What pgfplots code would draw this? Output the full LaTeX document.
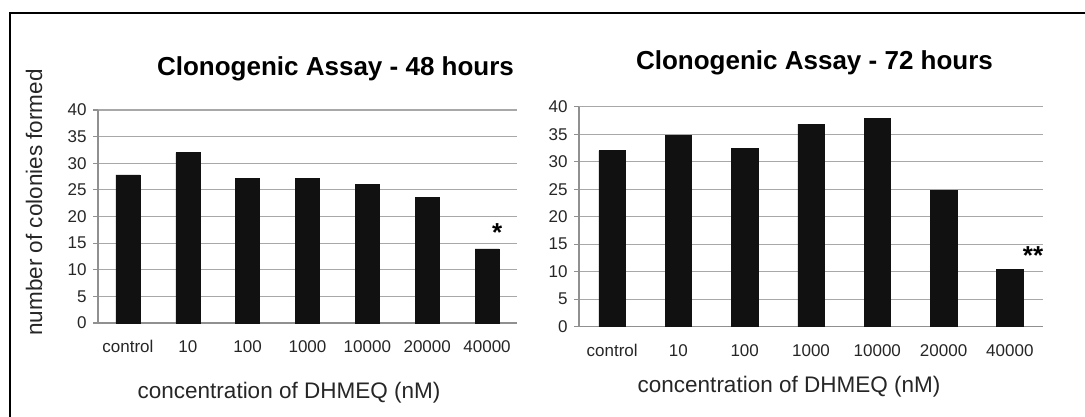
\documentclass[border=0pt]{standalone}
\usepackage{pgfplots}
\pgfplotsset{compat=1.18}
\usepackage{fontspec}
\setmainfont{Liberation Sans}
\definecolor{gridgray}{HTML}{A8A8A8}
\definecolor{axisgray}{HTML}{909090}
\definecolor{barblack}{HTML}{111111}
\pgfplotsset{
  clono/.style={
    scale only axis,
    anchor=south west,
    ymin=0, ymax=40,
    xmin=-0.5, xmax=6.5,
    ytick={0,5,...,40},
    xtick={0,...,6},
    xticklabels={control,10,100,1000,10000,20000,40000},
    extra x ticks={-0.5,0.5,...,6.5},
    extra x tick labels={},
    extra x tick style={major tick length=5pt, tick style={axisgray, line width=1.2pt}, grid=none},
    axis x line*=bottom,
    axis y line*=left,
    axis line style={axisgray, line width=1.2pt, -},
    ymajorgrids,
    major grid style={gridgray, line width=1.2pt},
    tick align=outside,
    xtick style={draw=none},
    ytick style={axisgray, line width=1.2pt},
    major tick length=5pt,
    /pgf/number format/assume math mode=true,
    tick label style={font=\fontsize{17}{20}\selectfont, text=black!85},
    xticklabel style={yshift=-9pt},
    yticklabel style={xshift=-3pt},
    ybar,
    bar width=0.4,
    clip=false,
  }
}
\begin{document}
\begin{tikzpicture}[x=1pt,y=1pt]
\path[use as bounding box] (0,0) rectangle (1085,417);
\draw[black, line width=2.2pt] (10,-5) -- (10,404) -- (1090,404);
% left chart
\begin{axis}[clono, at={(98pt,94pt)}, width=419pt, height=213pt]
\addplot[fill=barblack, draw=barblack] coordinates {(0,27.8) (1,32.0) (2,27.1) (3,27.1) (4,26.0) (5,23.6) (6,13.9)};
\node[font=\bfseries\fontsize{26}{26}\selectfont] at (axis cs:6.17,17.0) {*};
\end{axis}
% right chart
\begin{axis}[clono, at={(579pt,90.3pt)}, width=464pt, height=220pt]
\addplot[fill=barblack, draw=barblack] coordinates {(0,32.0) (1,34.85) (2,32.4) (3,36.85) (4,37.9) (5,24.85) (6,10.4)};
\node[font=\bfseries\fontsize{26}{26}\selectfont] at (axis cs:6.35,13.0) {**};
\end{axis}
% titles and labels
\node[anchor=base, font=\bfseries\fontsize{26}{30}\selectfont] at (335.5,341) {Clonogenic Assay - 48 hours};
\node[anchor=base, font=\bfseries\fontsize{26}{30}\selectfont] at (814.5,347) {Clonogenic Assay - 72 hours};
\node[anchor=base, font=\fontsize{22.5}{26}\selectfont, text=black!85] at (289,18) {concentration of DHMEQ (nM)};
\node[anchor=base, font=\fontsize{22.5}{26}\selectfont, text=black!85] at (789,24) {concentration of DHMEQ (nM)};
\node[anchor=base, rotate=90, font=\fontsize{22.5}{26}\selectfont, text=black!85] at (42,214.5) {number of colonies formed};
\end{tikzpicture}
\end{document}
